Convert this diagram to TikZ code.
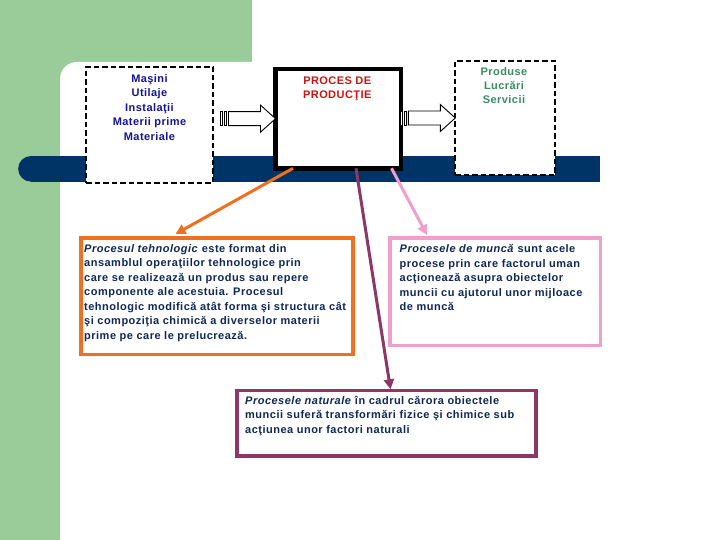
\documentclass[tikz,border=0pt]{standalone}
\usepackage{fontspec}
\setmainfont{Liberation Sans}
\newfontfamily\bodyfont[LetterSpace=4.5]{Liberation Sans}
\newfontfamily\labelfont[LetterSpace=4]{Liberation Sans}
\usetikzlibrary{calc,arrows.meta}
\definecolor{bggreen}{RGB}{153,204,153}
\definecolor{barnavy}{RGB}{0,51,102}
\definecolor{lblblue}{RGB}{20,20,150}
\definecolor{lblred}{RGB}{200,20,20}
\definecolor{lblgreen}{RGB}{60,140,100}
\definecolor{bodynavy}{RGB}{15,40,85}
\definecolor{cOrange}{RGB}{240,112,32}
\definecolor{cPink}{RGB}{240,158,204}
\definecolor{cPurple}{RGB}{140,55,100}
\tikzset{
  dashbox/.style={draw=black, fill=white, line width=2.2pt, dash pattern=on 5.5pt off 3pt, inner sep=0pt, outer sep=0pt},
  procbox/.style={draw=black, fill=white, line width=4.5pt, inner sep=0pt, outer sep=0pt},
  infobox/.style={fill=white, line width=3.5pt, inner sep=0pt, outer sep=0pt},
  lbl/.style={font={\labelfont\bfseries\fontsize{11}{14.5}\selectfont}, align=center, inner sep=0pt},
  bodytxt/.style={font={\bodyfont\bfseries\fontsize{11}{14.5}\selectfont}, text=bodynavy, align=left, inner sep=0pt, anchor=north west},
  conn/.style={line width=3pt, -{Triangle[length=10pt,width=10pt]}},
  blockarr/.pic={
    \draw[line width=0.9pt, fill=white] (0,-7) rectangle (2,7);
    \draw[line width=0.9pt, fill=white] (4,-7) rectangle (6,7);
    \draw[line width=0.9pt, fill=white] (8,-7) -- (40,-7) -- (40,-13.5) -- (55,0) -- (40,13.5) -- (40,7) -- (8,7) -- cycle;
  }
}
\begin{document}
\begin{tikzpicture}[x=1pt,y=-1pt]
\useasboundingbox (0,0) rectangle (720,540);
% background
\fill[white] (0,0) rectangle (720,540);
\fill[bggreen] (0,0) rectangle (252,540);
\fill[white] (60,540) -- (60,79) to[out=90,in=180] (77,62) -- (720,62) -- (720,540) -- cycle;
% navy bar
\fill[barnavy] (31,168.85) circle[radius=12.85];
\fill[barnavy] (31,156) rectangle (600,181.7);
% boxes
\node[dashbox, minimum width=127pt, minimum height=116pt] (b1) at (149.5,125) {};
\node[procbox, minimum width=125.5pt, minimum height=99.3pt] (b2) at (338.25,118.65) {};
\node[dashbox, minimum width=99.4pt, minimum height=114.6pt] (b3) at (505,118) {};
\node[infobox, draw=cOrange, minimum width=272pt, minimum height=116.5pt] (ob) at (217,296.25) {};
\node[infobox, draw=cPink, minimum width=210.5pt, minimum height=107.3pt] (kb) at (495.25,291.65) {};
\node[infobox, draw=cPurple, minimum width=299pt, minimum height=65.7pt] (pb) at (386.5,423.15) {};
% block arrows
\pic at ($(b2.west)+(-55,0)$) {blockarr};
\pic at ($(b3.west)+(-55,0)$) {blockarr};
% connectors
\draw[conn, cOrange] ([xshift=17.5pt]b2.south west) -- ([xshift=94.5pt,yshift=4pt]ob.north west);
\draw[conn, cPurple] ([xshift=80.5pt]b2.south west) -- ([xshift=153.5pt,yshift=1pt]pb.north west);
\draw[conn, cPink] ([xshift=116pt]b2.south west) -- ([xshift=37pt,yshift=3pt]kb.north west);
% labels
\node[lbl, text=lblblue, anchor=north] (t1) at ($(b1.north)+(0,7.2)$) {Maşini\\Utilaje\\Instalaţii\\Materii prime\\Materiale};
\node[lbl, text=lblred, anchor=north] (t2) at ($(b2.north)+(-1,7.6)$) {PROCES DE\\PRODUCŢIE};
\node[lbl, text=lblgreen, anchor=north, font={\labelfont\bfseries\fontsize{11}{14}\selectfont}] (t3) at ($(b3.north)+(-1,6.9)$) {Produse\\Lucrări\\Servicii};
% texts
\node[bodytxt] (ot) at ($(ob.north west)+(3,6)$) {\textit{Procesul tehnologic} este format din\\ansamblul operaţiilor tehnologice prin\\care se realizează un produs sau repere\\componente ale acestuia. Procesul\\tehnologic modifică atât forma şi structura cât\\şi compoziţia chimică a diverselor materii\\prime pe care le prelucrează.};
\node[bodytxt] (kt) at ($(kb.north west)+(9.5,6.7)$) {\textit{Procesele de muncă} sunt acele\\procese prin care factorul uman\\acţionează asupra obiectelor\\muncii cu ajutorul unor mijloace\\de muncă};
\node[bodytxt] (pt) at ($(pb.north west)+(8,5.7)$) {\textit{Procesele naturale} în cadrul cărora obiectele\\muncii suferă transformări fizice şi chimice sub\\acţiunea unor factori naturali};
\end{tikzpicture}
\end{document}
